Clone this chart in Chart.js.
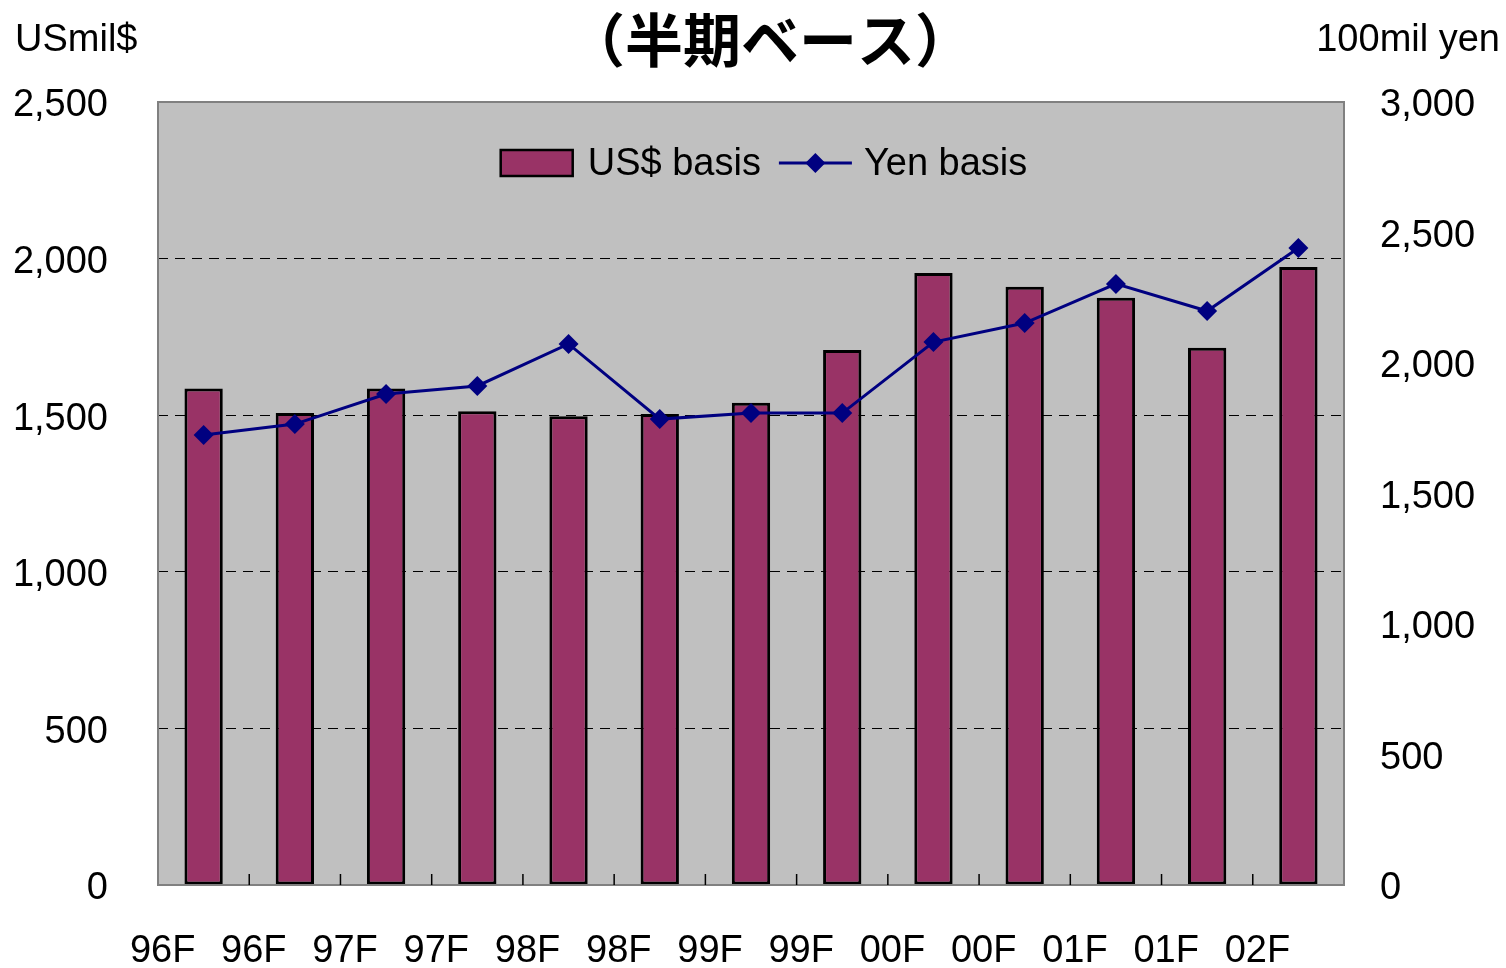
<!DOCTYPE html>
<html>
<head>
<meta charset="utf-8">
<script src="https://cdn.jsdelivr.net/npm/chart.js@4/dist/chart.umd.min.js"></script>
<style>
  html, body { margin: 0; padding: 0; background: #fff; }
  canvas { display: block; }
</style>
</head>
<body>
<canvas id="halfChart" width="1506" height="968"></canvas>
<script>
const labels = ["96F", "96F", "97F", "97F", "98F", "98F", "99F", "99F", "00F", "00F", "01F", "01F", "02F"];
const usdBasis = [1585, 1507, 1585, 1513, 1497, 1504, 1540, 1708, 1954, 1910, 1875, 1715, 1973];
const yenBasis = [1724, 1766, 1881, 1912, 2073, 1785, 1808, 1808, 2080, 2153, 2303, 2199, 2441];
const leftTicks = { min: 0, max: 2500, step: 500 };
const rightTicks = { min: 0, max: 3000, step: 500 };

const FONT = "'Liberation Sans', Arial, sans-serif";
const SIZE = 38;
const fmt = (v) => Number(v).toLocaleString("en-US");

// plot background, frame, inner tick marks, legend and titles
const decor = {
  id: "decor",
  beforeDraw(chart) {
    const { ctx, chartArea: a } = chart;
    ctx.save();
    ctx.fillStyle = "#c0c0c0";
    ctx.fillRect(a.left, a.top, a.right - a.left, a.bottom - a.top);
    ctx.restore();
  },
  afterDraw(chart) {
    const { ctx, chartArea: a } = chart;
    const x = chart.scales.x;
    ctx.save();
    ctx.strokeStyle = "#808080";
    ctx.lineWidth = 2;
    ctx.strokeRect(a.left, a.top, a.right - a.left, a.bottom - a.top);

    ctx.strokeStyle = "#000";
    ctx.lineWidth = 1.5;
    for (let i = 1; i < labels.length; i++) {
      const px = (x.getPixelForTick(i - 1) + x.getPixelForTick(i)) / 2;
      ctx.beginPath();
      ctx.moveTo(px, a.bottom);
      ctx.lineTo(px, a.bottom - 11);
      ctx.stroke();
    }

    // legend
    const bar = chart.data.datasets[0];
    const line = chart.data.datasets[1];
    ctx.font = SIZE + "px " + FONT;
    ctx.textBaseline = "middle";
    const w1 = ctx.measureText(bar.label).width;
    const w2 = ctx.measureText(line.label).width;
    const total = 72 + 15 + w1 + 18 + 73 + 12 + w2;
    let lx = (a.left + a.right) / 2 + 13 - total / 2;
    const ly = a.top + 61;
    ctx.fillStyle = bar.backgroundColor;
    ctx.fillRect(lx, ly - 13, 72, 26);
    ctx.strokeStyle = "#000";
    ctx.lineWidth = 2.5;
    ctx.strokeRect(lx, ly - 13, 72, 26);
    lx += 72 + 15;
    ctx.fillStyle = "#000";
    ctx.textAlign = "left";
    ctx.fillText(bar.label, lx, ly + 2);
    lx += w1 + 18;
    ctx.strokeStyle = line.borderColor;
    ctx.lineWidth = 3;
    ctx.beginPath();
    ctx.moveTo(lx, ly);
    ctx.lineTo(lx + 73, ly);
    ctx.stroke();
    ctx.fillStyle = line.borderColor;
    const cx = lx + 36.5;
    ctx.beginPath();
    ctx.moveTo(cx, ly - 10);
    ctx.lineTo(cx + 10, ly);
    ctx.lineTo(cx, ly + 10);
    ctx.lineTo(cx - 10, ly);
    ctx.closePath();
    ctx.fill();
    lx += 73 + 12;
    ctx.fillStyle = "#000";
    ctx.fillText(line.label, lx, ly + 2);

    // titles
    ctx.font = SIZE + "px " + FONT;
    ctx.textAlign = "left";
    ctx.fillText("USmil$", 15, 41);
    ctx.textAlign = "right";
    ctx.fillText("100mil yen", 1500, 41);
    ctx.font = "bold 58px 'Noto Sans CJK JP', sans-serif";
    ctx.textAlign = "center";
    ctx.fillText("（半期ベース）", 770, 40);
    ctx.restore();
  },
};

new Chart(document.getElementById("halfChart"), {
  type: "bar",
  data: {
    labels: labels,
    datasets: [
      {
        type: "bar",
        label: "US$ basis",
        data: usdBasis,
        yAxisID: "y",
        backgroundColor: "#993366",
        borderColor: "#000",
        borderWidth: 3,
        borderSkipped: false,
        barPercentage: 0.42,
        categoryPercentage: 1,
        order: 2,
      },
      {
        type: "line",
        label: "Yen basis",
        data: yenBasis,
        yAxisID: "y2",
        borderColor: "#000080",
        backgroundColor: "#000080",
        borderWidth: 3,
        pointStyle: "rectRot",
        pointRadius: 10,
        pointBorderWidth: 0,
        tension: 0,
        order: 1,
      },
    ],
  },
  options: {
    responsive: false,
    animation: false,
    devicePixelRatio: 1,
    layout: { padding: { top: 102, left: 0, right: 0, bottom: 0 } },
    plugins: {
      legend: { display: false },
      title: { display: false },
      tooltip: { enabled: false },
    },
    scales: {
      x: {
        offset: true,
        grid: { display: false, drawTicks: false },
        border: { display: false },
        ticks: {
          color: "#000",
          font: { family: FONT, size: SIZE },
          padding: 44,
          labelOffset: -41,
          maxRotation: 0,
          autoSkip: false,
        },
        afterFit(scale) { scale.height = 83; },
      },
      y: {
        position: "left",
        min: leftTicks.min,
        max: leftTicks.max,
        grid: {
          drawTicks: false,
          lineWidth: 1,
          color: (c) => (c.tick && (c.tick.value === leftTicks.min || c.tick.value === leftTicks.max) ? "rgba(0,0,0,0)" : "#000"),
        },
        border: { display: false, dash: [10, 7] },
        ticks: {
          stepSize: leftTicks.step,
          color: "#000",
          font: { family: FONT, size: SIZE },
          padding: 50,
          labelOffset: 4,
          callback: (v) => fmt(v),
        },
        afterFit(scale) { scale.width = 158; },
      },
      y2: {
        position: "right",
        min: rightTicks.min,
        max: rightTicks.max,
        grid: { display: false, drawTicks: false },
        border: { display: false },
        ticks: {
          stepSize: rightTicks.step,
          color: "#000",
          font: { family: FONT, size: SIZE },
          padding: 36,
          labelOffset: 4,
          callback: (v) => fmt(v),
        },
        afterFit(scale) { scale.width = 162; },
      },
    },
  },
  plugins: [decor],
});
</script>
</body>
</html>
